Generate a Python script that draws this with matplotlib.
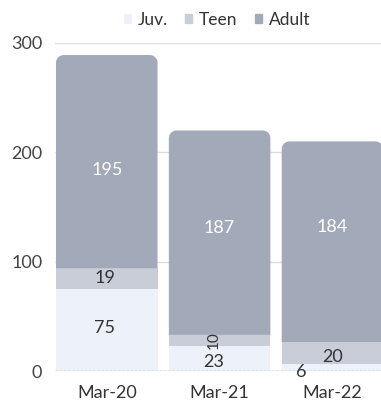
import numpy as np
import matplotlib.pyplot as plt
from matplotlib.patches import Polygon, Patch

plt.rcParams['font.family'] = ['Lato', 'DejaVu Sans']

months = ['Mar-20', 'Mar-21', 'Mar-22']
juv = [75, 23, 6]
teen = [19, 10, 20]
adult = [195, 187, 184]

c_juv = '#edf1f9'
c_teen = '#c9cdd7'
c_adult = '#a2aaba'
dark = '#333333'

fig = plt.figure(figsize=(3.81, 4.0), dpi=100)
ax = fig.add_axes([0.144, 0.0725, 0.856, 0.82])

x = np.arange(len(months))
w = 0.9
juv = np.array(juv)
teen = np.array(teen)
adult = np.array(adult)

ax.bar(x, juv, w, color=c_juv, zorder=2)
ax.bar(x, teen, w, bottom=juv, color=c_teen, zorder=2)

# adult segment with rounded top corners (one polygon per bar)
rx, ry = 0.07, 7.0
t = np.linspace(0, np.pi / 2, 12)
for xi, base, h in zip(x, juv + teen, adult):
    l, r, top = xi - w / 2, xi + w / 2, base + h
    left_arc = np.column_stack([l + rx - rx * np.cos(t), top - ry + ry * np.sin(t)])
    right_arc = np.column_stack([r - rx + rx * np.sin(t), top - ry + ry * np.cos(t)])
    pts = np.vstack([[[l, base]], left_arc, right_arc, [[r, base]]])
    ax.add_patch(Polygon(pts, closed=True, facecolor=c_adult, edgecolor='none', zorder=2))

# labels
fs = 13
ax.text(0, 184, '195', ha='center', va='center', color='white', fontsize=fs)
ax.text(1, 131, '187', ha='center', va='center', color='white', fontsize=fs)
ax.text(2, 132, '184', ha='center', va='center', color='white', fontsize=fs)
ax.text(-0.02, 39, '75', ha='center', va='center', color=dark, fontsize=fs)
ax.text(-0.02, 85, '19', ha='center', va='center', color=dark, fontsize=fs)
ax.text(0.95, 8, '23', ha='center', va='center', color=dark, fontsize=fs)
ax.text(0.95, 28, '10', ha='center', va='center', color=dark, fontsize=11, rotation=90)
ax.text(2, 13, '20', ha='center', va='center', color=dark, fontsize=fs)
ax.text(1.72, -1, '6', ha='center', va='center', color=dark, fontsize=fs)

ax.set_ylim(0, 300)
ax.set_xlim(-0.46, 2.43)
ax.set_yticks([0, 100, 200, 300])
ax.set_xticks(x)
ax.set_xticklabels(months)
ax.tick_params(length=0, labelsize=13, colors=dark)
ax.tick_params(axis='y', pad=9, labelcolor='#444444')
ax.tick_params(axis='x', pad=10)
ax.yaxis.grid(True, color='#dddddd', lw=1, zorder=0)
ax.axhline(0, color='#999999', lw=1, ls=(0, (2, 1)), zorder=3)
for s in ax.spines.values():
    s.set_visible(False)

handles = [Patch(color=c_juv), Patch(color=c_teen), Patch(color=c_adult)]
fig.legend(handles, ['Juv.', 'Teen', 'Adult'], loc='upper center', bbox_to_anchor=(0.57, 1.01),
           ncol=3, frameon=False, handlelength=0.4, handleheight=0.4, handletextpad=0.4,
           columnspacing=1.0, fontsize=12.5, labelcolor=dark)

fig.savefig('out.png', dpi=100)
